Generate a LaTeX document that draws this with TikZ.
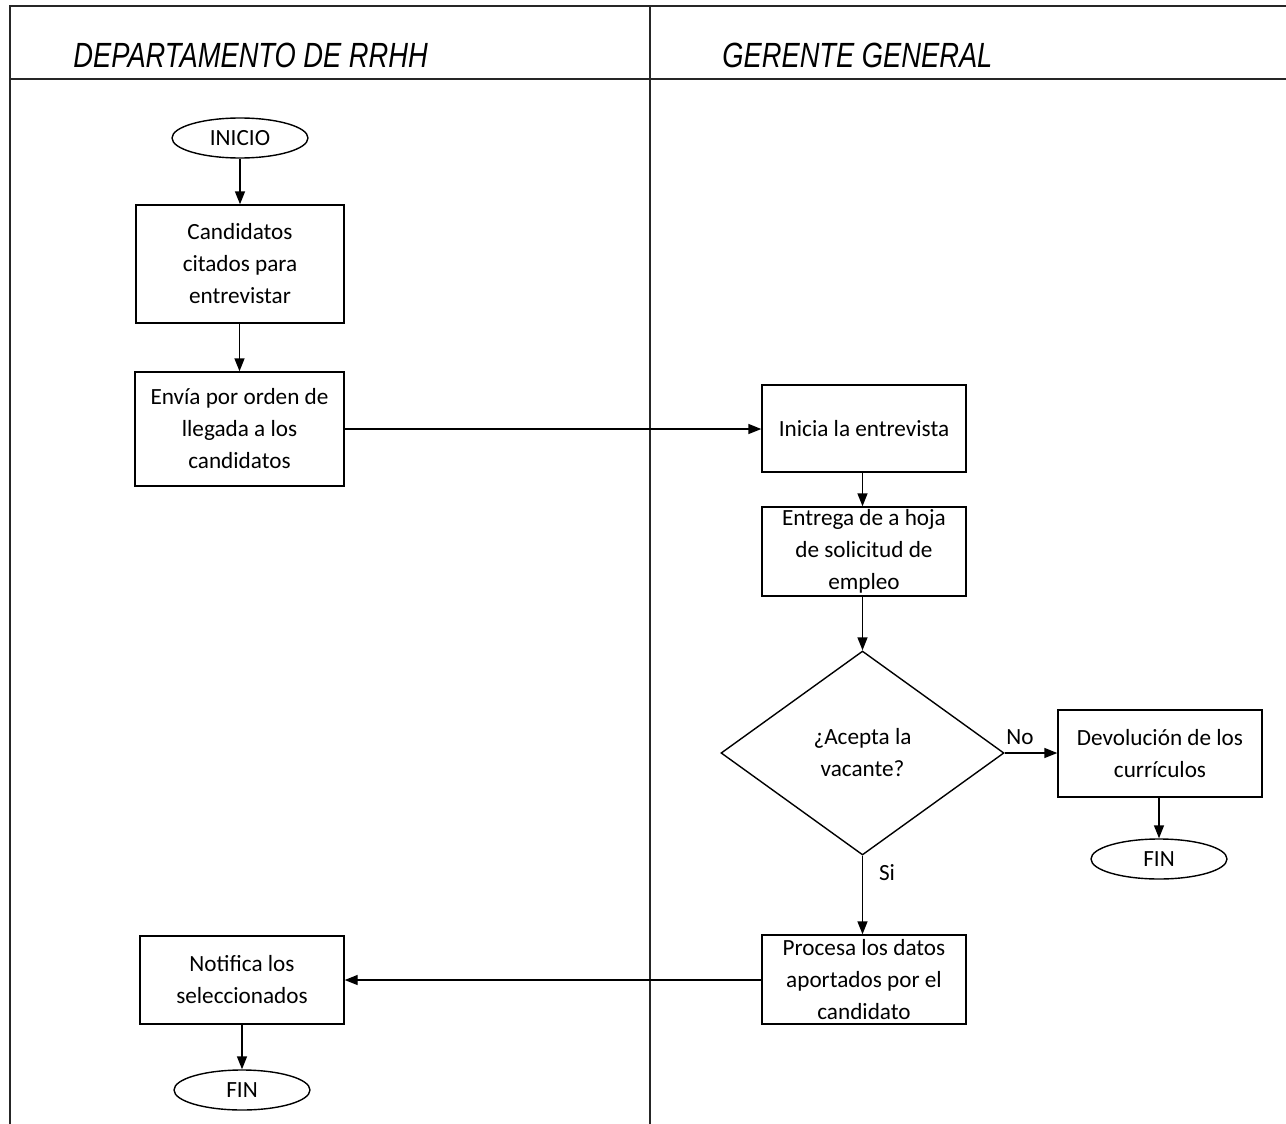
\documentclass[tikz,border=0pt]{standalone}
\usepackage{fontspec}
\usepackage{graphicx}
\setmainfont{Carlito}
\newfontfamily\headfont{Liberation Sans}
\usetikzlibrary{shapes.geometric,arrows.meta}

\tikzset{
  lane/.style={draw=black!85, line width=1pt},
  procbox/.style={draw, line width=0.7pt, rectangle, inner sep=0pt, align=center,
                  font=\fontsize{11.6}{16}\selectfont},
  terminal/.style={draw, line width=0.7pt, ellipse, inner sep=0pt,
                   minimum width=68pt, minimum height=20pt,
                   font=\fontsize{11.6}{16}\selectfont},
  decision/.style={draw, line width=0.7pt, diamond, inner sep=0pt, aspect=1.387,
                   minimum width=141.5pt, minimum height=102pt, align=center,
                   font=\fontsize{11.6}{16}\selectfont},
  flow/.style={draw, line width=0.7pt, -{Triangle[length=6.5pt,width=5pt]}},
  lanetitle/.style={anchor=base west, inner sep=0pt,
                    font=\headfont\itshape\fontsize{17.5}{20}\selectfont},
  edgelabel/.style={inner sep=0pt, font=\fontsize{11.6}{16}\selectfont}
}

\begin{document}
\begin{tikzpicture}[x=0.5pt, y=-0.5pt]
  \useasboundingbox (0,0) rectangle (1286,1124);

  % swimlane frame
  \draw[lane] (10,1124) -- (10,6) -- (1286,6);
  \draw[lane] (10,79) -- (1286,79);
  \draw[lane] (650,6) -- (650,1124);

  % lane titles
  \node[lanetitle] (titleA) at (73,68) {\scalebox{0.78}[1]{DEPARTAMENTO DE RRHH}};
  \node[lanetitle] (titleB) at (722,68) {\scalebox{0.78}[1]{GERENTE GENERAL}};

  % left lane
  \node[terminal] (inicio) at (240,138) {INICIO};
  \node[procbox, minimum width=104pt, minimum height=59pt] (citados) at (240,264)
       {Candidatos\\citados para\\entrevistar};
  \node[procbox, minimum width=104.5pt, minimum height=57pt] (envia) at (239.5,429)
       {Envía por orden de\\llegada a los\\candidatos};
  \node[procbox, minimum width=102pt, minimum height=44pt] (notifica) at (242,980)
       {Notifica los\\seleccionados};
  \node[terminal] (fin1) at (242,1090) {FIN};

  % right lane
  \node[procbox, minimum width=102pt, minimum height=43.5pt] (inicia) at (864,428.5)
       {Inicia la entrevista};
  \node[procbox, minimum width=102pt, minimum height=44.5pt] (entrega) at (864,551.5)
       {Entrega de a hoja\\de solicitud de\\empleo};
  \node[decision] (acepta) at (862.5,753) {¿Acepta la\\vacante?};
  \node[procbox, minimum width=102pt, minimum height=43.5pt] (devol) at (1160,753.5)
       {Devolución de los\\currículos};
  \node[terminal] (fin2) at (1159,859) {FIN};
  \node[procbox, minimum width=102pt, minimum height=44.5pt] (procesa) at (864,979.5)
       {Procesa los datos\\aportados por el\\candidato};

  % connectors
  \draw[flow] (inicio) -- (citados);
  \draw[flow] (citados.south -| envia.north) -- (envia.north);
  \draw[flow] (envia.east) -- (envia.east -| inicia.west);
  \draw[flow] (inicia.south -| acepta.north) -- (entrega.north -| acepta.north);
  \draw[flow] (entrega.south -| acepta.north) -- (acepta.north);
  \draw[flow] (acepta.east) -- (devol.west |- acepta.east);
  \draw[flow] (devol.south -| fin2.north) -- (fin2.north);
  \draw[flow] (acepta.south) -- (procesa.north -| acepta.south);
  \draw[flow] (procesa.west |- notifica.east) -- (notifica.east);
  \draw[flow] (notifica.south -| fin1.north) -- (fin1.north);

  % branch labels
  \node[edgelabel] (lblno) at (1020,737) {No};
  \node[edgelabel] (lblsi) at (887,873) {Si};
\end{tikzpicture}
\end{document}
